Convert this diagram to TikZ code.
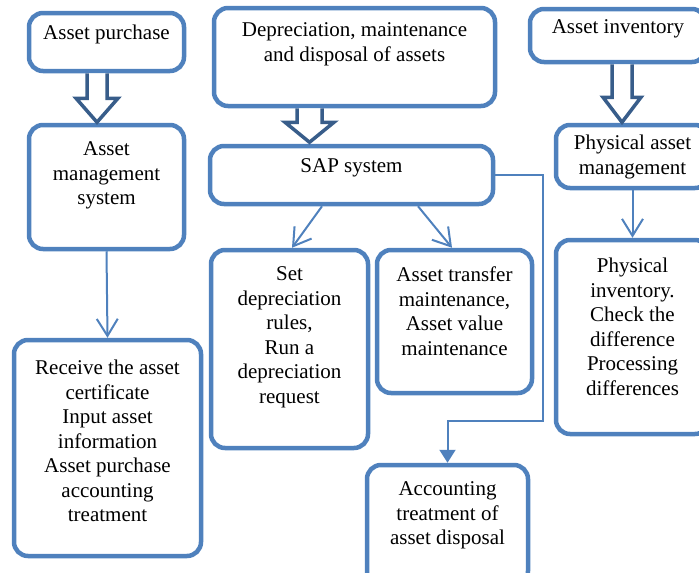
\documentclass[tikz,border=0pt]{standalone}
\usepackage{fontspec}
\setmainfont{Liberation Serif}
\usepackage{tikz}
\definecolor{boxblue}{HTML}{4F81BD}
\definecolor{darkblue}{HTML}{385D8A}
\usetikzlibrary{calc,arrows.meta}

\tikzset{
  box/.style={rectangle, draw=boxblue, line width=4.5pt, rounded corners=14pt},
  txt/.style={inner sep=0pt, align=center, anchor=north, font=\fontsize{21}{24.5}\selectfont},
  link/.style={draw=boxblue, line width=2pt, -{Straight Barb[length=17pt,width=21pt]}},
  elbow/.style={draw=boxblue, line width=2pt, -{Triangle[length=13pt,width=16pt]}},
  bigarrow/.style={draw=darkblue, line width=3.5pt, fill=white, line join=miter}
}

\begin{document}
\begin{tikzpicture}[x=1pt,y=-1pt]
  \useasboundingbox (0,0) rectangle (699,573);

  % top row
  \node[box, minimum width=155pt, minimum height=58pt,
    label={[txt,yshift=-14pt]north:Asset purchase}] at (106.5,42) (purchase) {};

  \node[box, minimum width=281pt, minimum height=98pt,
    label={[txt,yshift=-17pt]north:{Depreciation, maintenance\\and disposal of assets}}] at (354.5,57) (deprec) {};

  \node[box, minimum width=176pt, minimum height=53pt,
    label={[txt,yshift=-13pt]north:Asset inventory}] at (618,35.5) (inventory) {};

  % second row
  \node[box, minimum width=155pt, minimum height=124pt,
    label={[txt,yshift=-19pt]north:{Asset\\management\\system}}] at (106.5,187) (ams) {};

  \node[box, minimum width=283pt, minimum height=58pt,
    label={[txt,yshift=-15pt]north:SAP system}] at (351.5,175) (sap) {};

  \node[box, minimum width=153pt, minimum height=63pt,
    label={[txt,yshift=-12pt]north:{Physical asset\\management}}] at (632.5,156.5) (pam) {};

  % third row
  \node[box, minimum width=157pt, minimum height=198pt,
    label={[txt,yshift=-19pt]north:{Set\\depreciation\\rules,\\Run a\\depreciation\\request}}] at (289.5,349) (setdep) {};

  \node[box, minimum width=155pt, minimum height=143pt,
    label={[txt,yshift=-19pt]north:{Asset transfer\\maintenance,\\Asset value\\maintenance}}] at (454.5,321.5) (transfer) {};

  \node[box, minimum width=187pt, minimum height=216pt,
    label={[txt,yshift=-22pt]north:{Receive the asset\\certificate\\Input asset\\information\\Asset purchase\\accounting\\treatment}}] at (107.5,448) (receive) {};

  \node[box, minimum width=153pt, minimum height=194pt,
    label={[txt,yshift=-20pt]north:{Physical\\inventory.\\Check the\\difference\\Processing\\differences}}] at (632.5,337) (physinv) {};

  \node[box, minimum width=161pt, minimum height=120pt,
    label={[txt,yshift=-19pt]north:{Accounting\\treatment of\\asset disposal}}] at (447.5,525) (acct) {};

  % block arrows
  \draw[bigarrow] ($(purchase.south)+(-19.5,0)$) -- ++(0,25) -- ++(-11,0) -- ++(21,24)
    -- ++(21,-24) -- ++(-11,0) -- ++(0,-25);
  \draw[bigarrow] ($(deprec.south)+(-57.5,0)$) -- ++(0,14) -- ++(-12,0) -- ++(24.5,20)
    -- ++(24.5,-20) -- ++(-12,0) -- ++(0,-14);
  \draw[bigarrow] ($(inventory.south)+(-6,0)$) -- ++(0,33) -- ++(-9,0) -- ++(19,25)
    -- ++(19,-25) -- ++(-9,0) -- ++(0,-33);

  % thin arrows
  \draw[link] (ams.south) -- (receive.north);
  \draw[link] ([xshift=-29.5pt]sap.south) -- ([xshift=2.5pt]setdep.north);
  \draw[link] ([xshift=66.5pt]sap.south) -- ([xshift=-2.5pt]transfer.north);
  \draw[link] (pam.south) -- (physinv.north);

  \coordinate (turn) at (543,421);
  \draw[elbow] (sap.east) -| (turn) -| (acct.north);

\end{tikzpicture}
\end{document}
